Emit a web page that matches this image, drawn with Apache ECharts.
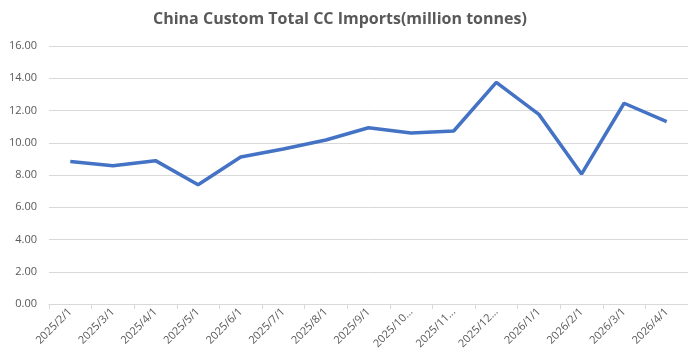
<!DOCTYPE html>
<html><head><meta charset="utf-8">
<script src="https://cdn.jsdelivr.net/npm/echarts@6/dist/echarts.min.js"></script>
<style>html,body{margin:0;padding:0;background:#fff}#c{width:688px;height:358px}</style>
</head><body><div id="c"></div>
<script>
const categories = ['2025/2/1','2025/3/1','2025/4/1','2025/5/1','2025/6/1','2025/7/1','2025/8/1','2025/9/1','2025/10/1','2025/11/1','2025/12/1','2026/1/1','2026/2/1','2026/3/1','2026/4/1'];
const imports = [8.83, 8.58, 8.89, 7.40, 9.12, 9.61, 10.17, 10.93, 10.60, 10.73, 13.75, 11.76, 8.06, 12.45, 11.31];
const titleText = 'China Custom Total CC Imports(million tonnes)';

const chart = echarts.init(document.getElementById('c'));
chart.setOption({
  animation: false,
  title: {
    text: titleText, left: 148, top: 6,
    textStyle: {fontFamily: 'Open Sans', fontSize: 16, fontWeight: 'bold', color: '#595959'}
  },
  grid: {left: 49, right: 0, top: 46, bottom: 54},
  xAxis: {
    type: 'category', data: categories,
    axisLine: {lineStyle: {color: '#d9d9d9'}},
    axisTick: {show: true, length: 5, lineStyle: {color: '#d9d9d9'}},
    axisLabel: {
      rotate: 45, interval: 0, color: '#595959', fontFamily: 'Open Sans', fontSize: 11, margin: 6,
      formatter: v => v.length > 8 ? v.slice(0, 7) + '...' : v
    }
  },
  yAxis: {
    type: 'value', min: 0, max: 16, interval: 2,
    axisLine: {show: false}, axisTick: {show: false},
    splitLine: {lineStyle: {color: '#d9d9d9'}},
    axisLabel: {color: '#595959', fontFamily: 'Open Sans', fontSize: 11, margin: 12, formatter: v => v.toFixed(2)}
  },
  series: [{
    type: 'line', data: imports, showSymbol: false, symbol: 'none',
    lineStyle: {color: '#4472C4', width: 3.5}
  }]
});
</script></body></html>
